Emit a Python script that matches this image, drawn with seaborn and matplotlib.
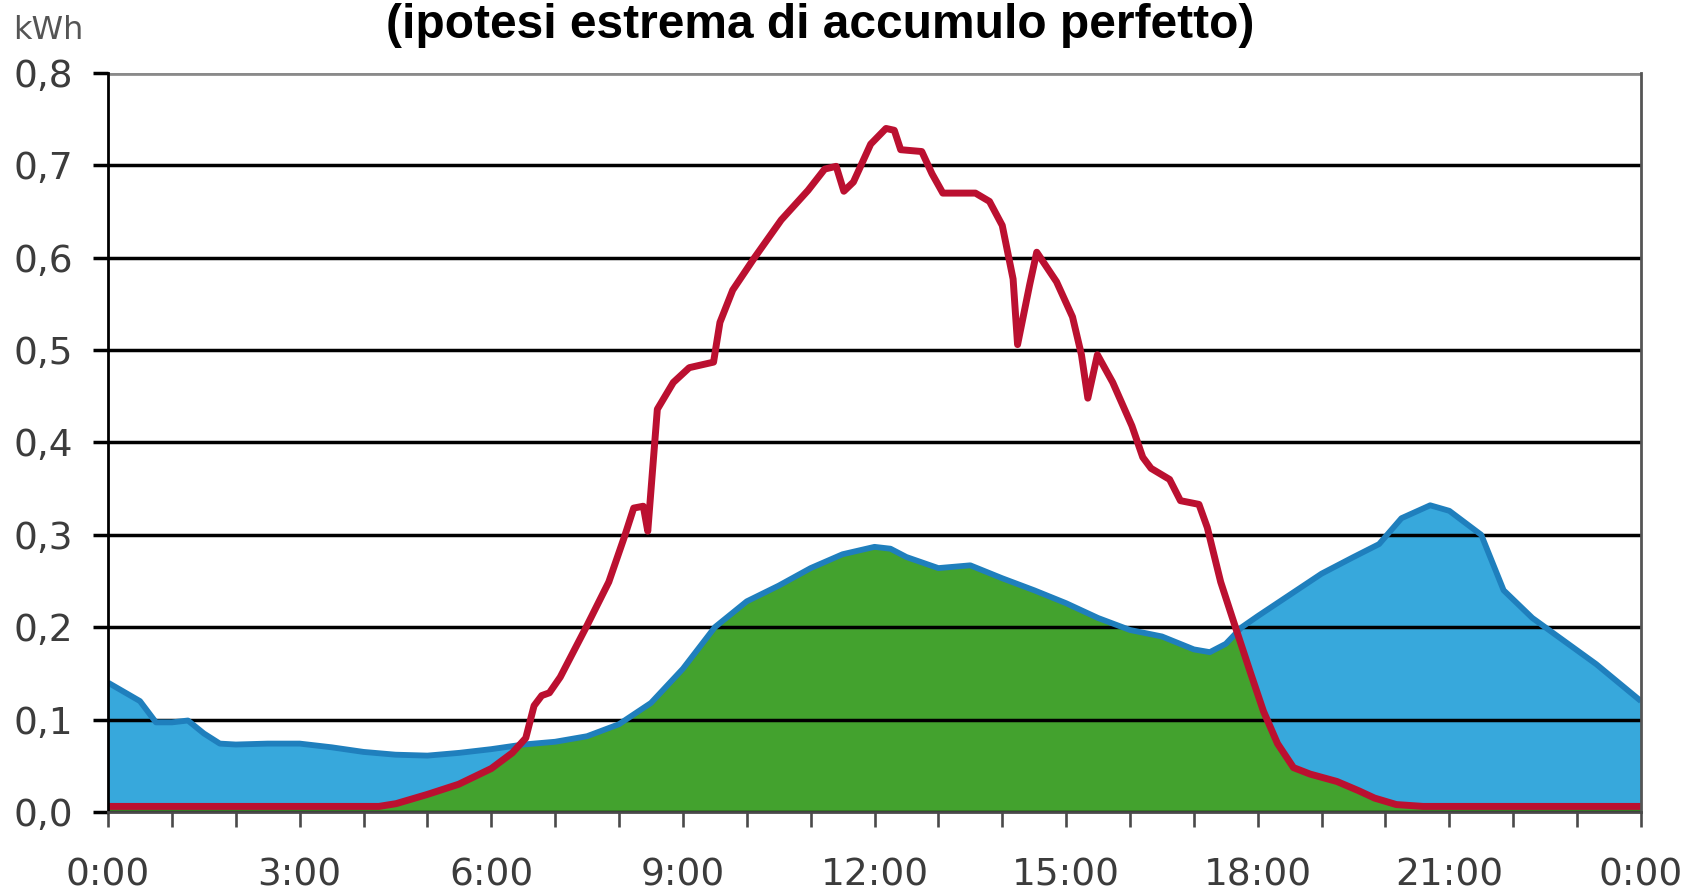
import matplotlib
matplotlib.use("Agg")
import matplotlib.pyplot as plt
import seaborn as sns

# consumption (blue) - hour of day vs kWh
cons_hours = [0, 0.5, 0.75, 1.0, 1.25, 1.5, 1.75, 2.0, 2.5, 3.0, 3.5, 4.0, 4.5, 5.0,
              5.5, 6.0, 6.5, 7.0, 7.5, 8.0, 8.5, 9.0, 9.5, 10.0, 10.5, 11.0, 11.5,
              12.0, 12.25, 12.5, 13.0, 13.5, 14.0, 14.5, 15.0, 15.5, 16.0, 16.5,
              17.0, 17.25, 17.5, 17.75, 18.0, 18.5, 19.0, 19.5, 19.9, 20.25, 20.7,
              21.0, 21.5, 21.85, 22.3, 22.9, 23.3, 24.0]
cons_kwh = [0.14, 0.12, 0.097, 0.097, 0.099, 0.085, 0.074, 0.073, 0.074, 0.074, 0.07,
            0.065, 0.062, 0.061, 0.064, 0.068, 0.073, 0.076, 0.082, 0.095, 0.118,
            0.155, 0.2, 0.228, 0.245, 0.264, 0.279, 0.287, 0.285, 0.276, 0.264,
            0.267, 0.253, 0.24, 0.226, 0.21, 0.197, 0.19, 0.176, 0.173, 0.182, 0.2,
            0.212, 0.235, 0.258, 0.276, 0.29, 0.318, 0.332, 0.326, 0.3, 0.24, 0.21,
            0.18, 0.16, 0.12]

# PV production (red)
prod_hours = [0, 4.24, 4.51, 5.0, 5.49, 6.0, 6.33, 6.54, 6.67, 6.79, 6.91, 7.08, 7.5,
              7.84, 8.09, 8.23, 8.38, 8.45, 8.6, 8.85, 9.1, 9.48, 9.58, 9.78, 10.12,
              10.54, 10.96, 11.22, 11.4, 11.52, 11.67, 11.94, 12.18, 12.31, 12.41,
              12.74, 12.9, 13.07, 13.58, 13.8, 14.0, 14.17, 14.24, 14.43, 14.54,
              14.85, 15.1, 15.24, 15.34, 15.49, 15.73, 16.03, 16.2, 16.33, 16.62,
              16.79, 17.08, 17.21, 17.42, 17.67, 17.89, 18.09, 18.31, 18.56, 18.82,
              19.24, 19.58, 19.83, 20.17, 20.59, 24.0]
prod_kwh = [0.006, 0.006, 0.009, 0.019, 0.03, 0.047, 0.064, 0.08, 0.115, 0.126, 0.129,
            0.146, 0.202, 0.249, 0.299, 0.329, 0.331, 0.304, 0.436, 0.465, 0.481,
            0.487, 0.53, 0.565, 0.6, 0.641, 0.673, 0.696, 0.699, 0.672, 0.682, 0.723,
            0.74, 0.738, 0.717, 0.715, 0.691, 0.67, 0.67, 0.661, 0.635, 0.577, 0.506,
            0.571, 0.606, 0.574, 0.536, 0.495, 0.448, 0.495, 0.465, 0.418, 0.384,
            0.372, 0.36, 0.337, 0.333, 0.308, 0.249, 0.196, 0.15, 0.109, 0.074,
            0.048, 0.041, 0.033, 0.023, 0.015, 0.008, 0.006, 0.006]

x_ticks = [0, 3, 6, 9, 12, 15, 18, 21, 24]
x_labels = ["0:00", "3:00", "6:00", "9:00", "12:00", "15:00", "18:00", "21:00", "0:00"]
y_ticks = [0.0, 0.1, 0.2, 0.3, 0.4, 0.5, 0.6, 0.7, 0.8]
y_labels = ["0,0", "0,1", "0,2", "0,3", "0,4", "0,5", "0,6", "0,7", "0,8"]

title = "(ipotesi estrema di accumulo perfetto)"

sns.set_theme(style="white")
plt.rcParams['font.family'] = ['DejaVu Sans']

fig = plt.figure(figsize=(16.91, 8.96), dpi=100)
ax = fig.add_axes([0.0639, 0.0938, 0.9065, 0.8247])

# consumption area, then the self-consumed part (under both curves) in green
blue_fill = ax.fill_between(cons_hours, 0, cons_kwh, color="#37a8dc", lw=0, zorder=1)
green_fill = ax.fill_between(prod_hours, 0, prod_kwh, color="#43a22e", lw=0, zorder=1.5)
green_fill.set_clip_path(blue_fill.get_paths()[0], ax.transData)

sns.lineplot(x=cons_hours, y=cons_kwh, ax=ax, color="#1f7fbd", lw=4.2, zorder=3,
             sort=False, solid_joinstyle="round", solid_capstyle="butt")
sns.lineplot(x=prod_hours, y=prod_kwh, ax=ax, color="#bb1030", lw=5.0, zorder=4,
             sort=False, solid_joinstyle="round", solid_capstyle="butt")

ax.set_xlim(0, 24)
ax.set_ylim(0, 0.8)
ax.set_xticks(x_ticks)
ax.set_xticks(range(25), minor=True)
ax.set_xticklabels(x_labels)
ax.set_yticks(y_ticks)
ax.set_yticklabels(y_labels)

ax.set_axisbelow(False)
ax.grid(axis="y", color="black", lw=2.5)
ax.grid(axis="x", visible=False)
gl = ax.yaxis.get_gridlines()
gl[-1].set_color("#8a8a8a")
gl[-1].set_linewidth(3.4)

ax.tick_params(axis="x", which="both", direction="out", length=11, width=1.9,
               color="#4a4a4a", bottom=True, pad=22, labelsize=27, labelcolor="#3c3c3c")
ax.tick_params(axis="y", which="major", direction="out", length=11, width=2.5,
               color="black", left=True, pad=14, labelsize=27, labelcolor="#3c3c3c")
ax.yaxis.get_major_ticks()[-1].tick1line.set_color("#8a8a8a")

ax.spines["top"].set_visible(False)
ax.spines["left"].set_color("black")
ax.spines["left"].set_linewidth(2)
ax.spines["right"].set_color("#555555")
ax.spines["right"].set_linewidth(2)
ax.spines["bottom"].set_color("#4a4a4a")
ax.spines["bottom"].set_linewidth(2)
for sp in ax.spines.values():
    sp.set_zorder(5)

ax.set_xlabel("")
ax.set_ylabel("")

fig.text(0.0075, 0.956, "kWh", fontsize=23, color="#555555", ha="left", va="baseline")
fig.text(0.485, 1 - 38 / 896, title, fontsize=34.5, fontweight="bold",
         family=["Liberation Sans", "DejaVu Sans"], ha="center", va="baseline",
         color="black")

fig.savefig("out.png", dpi=100, facecolor="white")
